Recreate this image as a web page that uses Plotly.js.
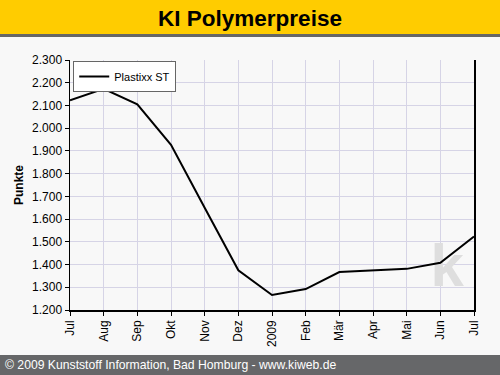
<!DOCTYPE html>
<html><head><meta charset="utf-8">
<script src="https://cdn.plot.ly/plotly-3.0.1.min.js"></script>
<style>html,body{margin:0;padding:0;background:#f8f8f8}#c{width:500px;height:375px}</style>
</head><body><div id="c"></div>
<script>
const months = ["Jul","Aug","Sep","Okt","Nov","Dez","2009","Feb","Mär","Apr","Mai","Jun","Jul"];
const plastixxST = [2123,2173,2105,1927,1650,1375,1266,1292,1367,1375,1381,1408,1523];
const seriesName = "Plastixx ST";
const yTicks = [1200,1300,1400,1500,1600,1700,1800,1900,2000,2100,2200,2300];

const xIdx = months.map((m,i)=>i);
const F = "Liberation Sans, Arial, sans-serif";
const gridCol = "#d6d4e6";

Plotly.newPlot("c", [
 {x: [11.2], y: [1240], type: "scatter", mode: "text", text: ["<b>k</b>"], textposition: "top center",
  textfont: {family: F, size: 60, color: "#dedede"}, showlegend: false, hoverinfo: "skip", cliponaxis: false},
 {x: xIdx, y: plastixxST, type: "scatter", mode: "lines", name: seriesName,
  line: {color: "#000", width: 2}}
], {
  width: 500, height: 375,
  margin: {l: 70, r: 26, t: 60, b: 65},
  paper_bgcolor: "#f8f8f8", plot_bgcolor: "#f8f8f8",
  separators: ",.",
  font: {family: F, size: 12, color: "#000"},
  title: {text: "<b>KI Polymerpreise</b>", font: {family: F, size: 22.5, color: "#000"},
          x: 0.5, xref: "container", y: 0.952, yref: "container", yanchor: "middle"},
  showlegend: true,
  legend: {x: 0.008, y: 0.996, xanchor: "left", yanchor: "top", bgcolor: "#ffffff",
           bordercolor: "#666", borderwidth: 1, font: {family: F, size: 11},
           itemwidth: 30, tracegroupgap: 0},
  xaxis: {range: [0, 12], tickvals: xIdx, ticktext: months, tickangle: -90,
          showgrid: true, gridcolor: gridCol, gridwidth: 1,
          showline: true, linecolor: "#000", linewidth: 1.5,
          ticks: "outside", ticklen: 4, tickcolor: "#000",
          tickfont: {family: F, size: 12}, zeroline: false, fixedrange: true},
  yaxis: {range: [1200, 2300], tickvals: yTicks, tickformat: ",d",
          showgrid: true, gridcolor: gridCol, gridwidth: 1,
          showline: true, linecolor: "#000", linewidth: 1.5, mirror: true,
          ticks: "outside", ticklen: 4, tickcolor: "#000",
          tickfont: {family: F, size: 12}, zeroline: false,
          title: {text: "<b>Punkte</b>", font: {family: F, size: 12}, standoff: 6}},
  shapes: [
    {type: "rect", xref: "paper", yref: "paper", x0: -0.2, x1: 1.1, y0: 1.1, y1: 1.3,
     fillcolor: "#ffcc00", line: {width: 0}, layer: "below"},
    {type: "line", xref: "paper", yref: "paper", x0: -0.2, x1: 1.1, y0: 1.098, y1: 1.098,
     line: {color: "#666", width: 3}},
    {type: "rect", xref: "paper", yref: "paper", x0: -0.2, x1: 1.1, y0: -0.18, y1: -0.3,
     fillcolor: "#666769", line: {width: 0}, layer: "below"}
  ],
  annotations: [
    {text: "© 2009 Kunststoff Information, Bad Homburg - www.kiweb.de", xref: "paper", yref: "paper",
     x: -0.167, y: -0.22, xanchor: "left", yanchor: "middle", showarrow: false,
     font: {family: F, size: 12.2, color: "#fff"}}
  ]
}, {displayModeBar: false, staticPlot: true});
</script></body></html>
